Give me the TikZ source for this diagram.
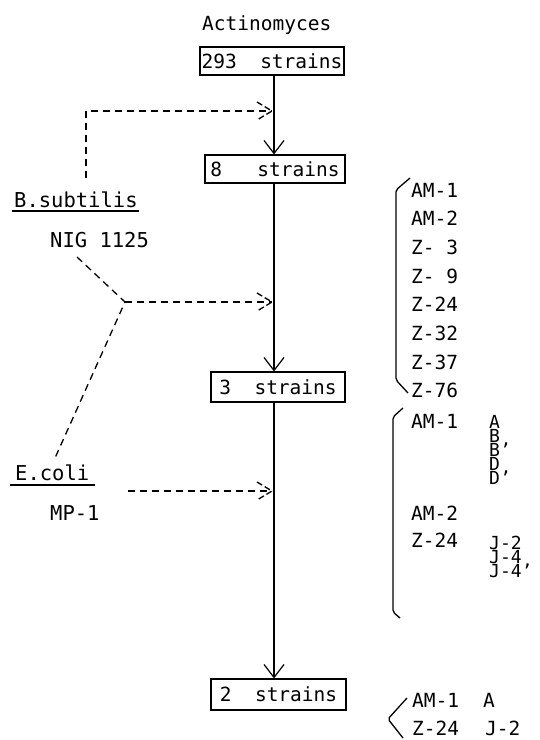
\documentclass[tikz,border=0pt]{standalone}
\usepackage{fontspec}
\setmainfont{DejaVu Sans Mono}
\usetikzlibrary{arrows.meta,calc}
\begin{document}
\begin{tikzpicture}[x=1pt,y=-1pt,
  txt/.style={font=\fontsize{19.5}{22}\selectfont, inner sep=0pt, anchor=base west},
  stk/.style={font=\fontsize{18}{14}\selectfont, inner sep=0pt, anchor=base west, align=left},
  ltxt/.style={font=\fontsize{20.5}{22}\selectfont, inner sep=0pt, anchor=base west},
  sbox/.style={draw, line width=1.1pt, font=\fontsize{19.5}{22}\selectfont, inner sep=0pt},
  main/.style={line width=1.2pt, -{Straight Barb[length=13pt,width=20pt,line width=1.2pt]}},
  dsh/.style={line width=1.3pt, dash pattern=on 7pt off 5pt},
  dhead/.style={line width=1.3pt, dash pattern=on 6pt off 3pt},
  brk/.style={line width=1.3pt, rounded corners=2pt}]
\useasboundingbox (0,0) rectangle (539,740);

% title and boxes
\node[txt] (act) at (202,30) {Actinomyces};
\node[sbox, minimum width=144pt, minimum height=28pt] (b293) at (272,61) {293\ \ strains};
\node[sbox, minimum width=140pt, minimum height=28pt] (b8) at (275,169) {8\ \ \ strains};
\node[sbox, minimum width=134pt, minimum height=30pt] (b3) at (278,387) {3\ \ strains};
\node[sbox, minimum width=135pt, minimum height=31pt] (b2) at (278.5,694.5) {2\ \ strains};

% main flow
\coordinate (L) at (274,0);
\draw[main] (b293.south -| L) -- (b8.north -| L);
\draw[main] (b8.south -| L) -- (b3.north -| L);
\draw[main] (b3.south -| L) -- (b2.north -| L);

% left labels
\node[ltxt] (bs) at (14,207) {B.subtilis};
\draw[line width=1.2pt] ($(bs.base west)+(-2,4)$) -- ($(bs.base east)+(1,4)$);
\node[ltxt] (nig) at (50,247) {NIG 1125};
\node[ltxt] (ec) at (15,480) {E.coli};
\draw[line width=1.2pt] ($(ec.base west)+(-5,5)$) -- ($(ec.base east)+(6,5)$);
\node[ltxt] (mp) at (50,520) {MP-1};

% dashed connectors
\coordinate (c1b) at (86,178);
\coordinate (c1) at (86,111);
\coordinate (t1) at (272,111);
\draw[dsh] (c1b) -- (c1) -- (t1);
\draw[dhead] ($(t1)+(-15,-9)$) -- (t1) -- ($(t1)+(-15,9)$);

\coordinate (n1) at (77,257);
\coordinate (J) at (125,302);
\coordinate (e1) at (55,458);
\coordinate (t2) at (272,302);
\draw[dsh] (n1) -- (J) -- (e1);
\draw[dsh] (J) -- (t2);
\draw[dhead] ($(t2)+(-15,-9)$) -- (t2) -- ($(t2)+(-15,9)$);

\coordinate (e2) at (128,491);
\coordinate (t3) at (272,491);
\draw[dsh] (e2) -- (t3);
\draw[dhead] ($(t3)+(-15,-9)$) -- (t3) -- ($(t3)+(-15,9)$);

% right list 1
\foreach \s [count=\i from 0] in {AM-1,AM-2,Z-\ 3,Z-\ 9,Z-24,Z-32,Z-37,Z-76}
  \node[txt] (ra\i) at (411,197+28.7*\i) {\s};
\draw[brk] (410,178) -- (396,190) -- (396,380) -- (408,393);

% right list 2
\node[txt] (rb1) at (411,428) {AM-1};
\node[txt] (rb2) at (411,520) {AM-2};
\node[txt] (rb3) at (411,547) {Z-24};
\node[stk] (sab) at (489,484) {A\\B\\B’\\D\\D’};
\node[stk] (sj) at (489,577) {J-2\\J-4\\J-4’};
\draw[brk] (403,408) -- (393,417) -- (393,612) -- (400,618);

% right list 3
\node[txt] (rc1) at (412,707) {AM-1};
\node[txt] (rc2) at (412,735) {Z-24};
\node[txt] (tc1) at (483,707) {A};
\node[txt] (tc2) at (485,735) {J-2};
\draw[brk] (407,698) -- (388,719) -- (403,738);
\end{tikzpicture}
\end{document}
